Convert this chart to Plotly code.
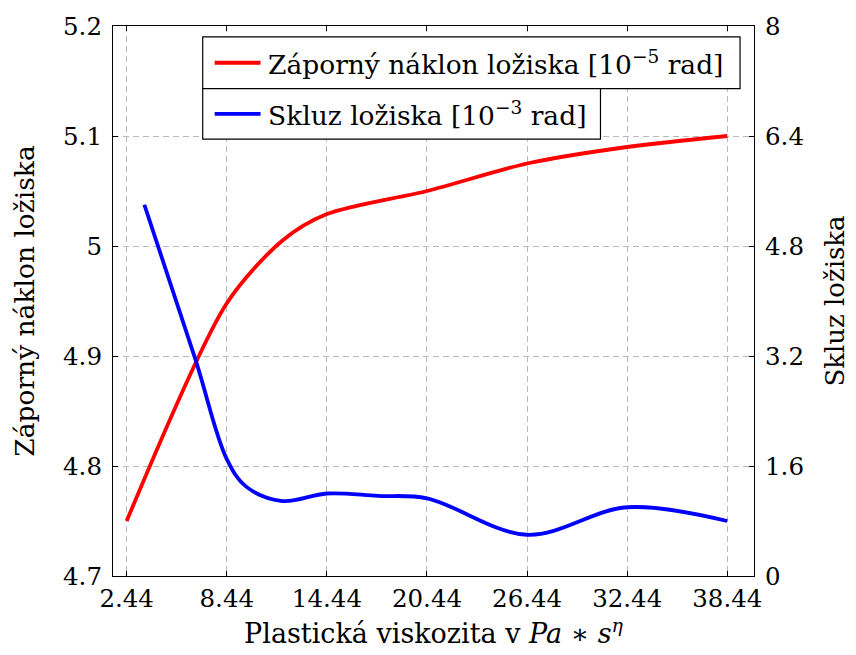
import plotly.graph_objects as go

# data
x_ticks = [2.44, 8.44, 14.44, 20.44, 26.44, 32.44, 38.44]

naklon_x = [2.44, 8.44, 11.78, 14.44, 20.44, 26.44, 32.44, 38.44]
naklon_y = [4.75, 4.948, 5.005, 5.029, 5.05, 5.075, 5.09, 5.1]

skluz_x = [3.5, 6.56, 8.44, 9.6, 11.78, 14.44, 17.5, 20.44, 26.44, 32.44, 38.44]
skluz_y = [5.4, 3.15, 1.7, 1.3, 1.09, 1.2, 1.165, 1.13, 0.6, 1.0, 0.8]

left_ticks = [4.7, 4.8, 4.9, 5.0, 5.1, 5.2]
left_labels = ["4.7", "4.8", "4.9", "5", "5.1", "5.2"]
right_ticks = [0, 1.6, 3.2, 4.8, 6.4, 8]

name_red = "Záporný náklon ložiska [10<sup>−5</sup> rad]"
name_blue = "Skluz ložiska [10<sup>−3</sup> rad]"

FONT = "DejaVu Serif"

W, H = 856, 655
# plot area in pixels
L, R, T, B = 113, 756, 24, 578


def px(x):
    return (x - L) / (R - L)


def py(y):
    return (B - y) / (B - T)


fig = go.Figure()

fig.add_trace(go.Scatter(
    x=naklon_x, y=naklon_y,
    mode="lines",
    line=dict(color="#ff0000", width=3.8, shape="spline", smoothing=0.8),
    name=name_red,
    yaxis="y"
))

fig.add_trace(go.Scatter(
    x=skluz_x, y=skluz_y,
    mode="lines",
    line=dict(color="#0000ff", width=3.8, shape="spline", smoothing=1.0),
    name=name_blue,
    yaxis="y2"
))

# =========================
# LEGEND (two boxes, drawn by hand)
# =========================

shapes = []
annotations = []

boxes = [
    (203, 35, 742, 87, "#ff0000", name_red),
    (203, 87, 602, 138, "#0000ff", name_blue),
]

for x0, y0, x1, y1, col, txt in boxes:
    shapes.append(dict(
        type="rect", xref="paper", yref="paper",
        x0=px(x0), x1=px(x1), y0=py(y1), y1=py(y0),
        line=dict(color="black", width=1.2),
        fillcolor="white", layer="above"
    ))
    ym = (y0 + y1) / 2
    shapes.append(dict(
        type="line", xref="paper", yref="paper",
        x0=px(215), x1=px(261), y0=py(ym), y1=py(ym),
        line=dict(color=col, width=3.8), layer="above"
    ))
    annotations.append(dict(
        x=px(266), y=py(ym), xref="paper", yref="paper",
        xanchor="left", yanchor="middle", showarrow=False,
        text=txt, font=dict(family=FONT, size=26.5, color="black")
    ))

axis_common = dict(
    showline=True, linecolor="black", linewidth=1.2,
    ticks="inside", ticklen=5, tickcolor="black",
    tickfont=dict(family=FONT, size=24.5, color="black"),
    zeroline=False,
)

fig.update_layout(
    width=W, height=H,
    margin=dict(l=L, r=W - R, t=T, b=H - B),
    plot_bgcolor="white",
    paper_bgcolor="white",
    font=dict(family=FONT, color="black"),
    showlegend=False,
    xaxis=dict(
        range=[1.62, 40.04],
        tickvals=x_ticks,
        ticktext=[f"{v:.2f}" for v in x_ticks],
        mirror="ticks",
        showgrid=True, gridcolor="#b9b9b9", gridwidth=1, griddash="6px,4px",
        title=dict(text="Plastická viskozita v <i>Pa</i> ∗ <i>s</i><sup><i>η</i></sup>",
                   font=dict(family=FONT, size=27, color="black"), standoff=12),
        **axis_common
    ),
    yaxis=dict(
        range=[4.7, 5.2],
        tickvals=left_ticks,
        ticktext=left_labels,
        ticklabelstandoff=5,
        showgrid=True, gridcolor="#b9b9b9", gridwidth=1, griddash="6px,4px",
        title=dict(text="Záporný náklon ložiska",
                   font=dict(family=FONT, size=26.5, color="black"), standoff=20),
        **axis_common
    ),
    yaxis2=dict(
        range=[0, 8],
        tickvals=right_ticks,
        ticktext=[f"{v:g}" for v in right_ticks],
        ticklabelstandoff=5,
        overlaying="y", side="right",
        showgrid=False,
        title=dict(text="Skluz ložiska",
                   font=dict(family=FONT, size=26, color="black"), standoff=22),
        **axis_common
    ),
    shapes=shapes,
    annotations=annotations,
)

# no page margin, so the figure sits at the window's top-left corner
fig.write_html(
    "out.html",
    config={"displayModeBar": False},
    post_script="document.body.style.margin='0';document.body.style.overflow='hidden';"
)
